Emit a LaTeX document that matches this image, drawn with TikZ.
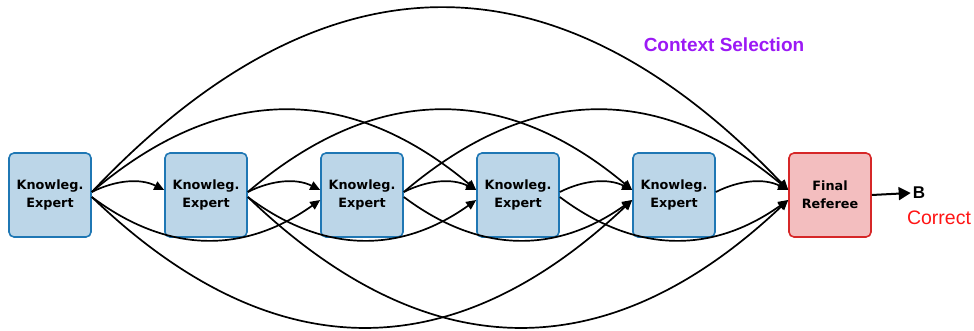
\documentclass[tikz,border=0pt]{standalone}
\usepackage{fontspec}
\setmainfont{DejaVu Sans}
\newfontfamily\labfont{Liberation Sans}
\usetikzlibrary{arrows.meta}
\definecolor{kfill}{RGB}{188,214,232}
\definecolor{kdraw}{RGB}{31,119,180}
\definecolor{rfill}{RGB}{243,190,191}
\definecolor{rdraw}{RGB}{214,39,40}
\definecolor{ctxcol}{RGB}{155,25,245}
\definecolor{corcol}{RGB}{255,20,20}
\tikzset{
  expertbox/.style={draw=kdraw, fill=kfill, line width=1.6pt, rounded corners=5pt,
    minimum width=82pt, minimum height=84pt, inner sep=0pt, align=center,
    font=\fontsize{12.8}{18}\selectfont\bfseries},
  refbox/.style={expertbox, draw=rdraw, fill=rfill},
  arr/.style={line width=1.7pt, black, -{Triangle[length=10pt,width=9pt]}},
}
\begin{document}
\begin{tikzpicture}[x=1pt,y=-1pt]
\useasboundingbox (0,0) rectangle (974,331);
\node[expertbox] (e1) at (50,195) {Knowleg.\\Expert};
\node[expertbox] (e2) at (206,195) {Knowleg.\\Expert};
\node[expertbox] (e3) at (362,195) {Knowleg.\\Expert};
\node[expertbox] (e4) at (518,195) {Knowleg.\\Expert};
\node[expertbox] (e5) at (674,195) {Knowleg.\\Expert};
\node[refbox] (f) at (830,195) {Final\\Referee};
\node[font=\labfont\bfseries\fontsize{17}{17}\selectfont, inner sep=2pt] (b) at (919,193) {B};
\node[font=\labfont\fontsize{19.5}{19.5}\selectfont, text=corcol] (cor) at (939,218) {Correct};
\node[font=\labfont\bfseries\fontsize{19}{19}\selectfont, text=ctxcol] (ctx) at (724,45) {Context Selection};
% distance 1 (up)
\foreach \a/\b in {e1/e2,e2/e3,e3/e4,e4/e5,e5/f}{
  \draw[arr] ([yshift=3pt]\a.east) .. controls +(24,-12) and +(-24,-12) .. ([yshift=5pt]\b.west);
}
% distance 2 (down)
\foreach \a/\b in {e1/e3,e2/e4,e3/e5,e4/f}{
  \draw[arr] ([yshift=-2pt]\a.east) .. controls +(76,57) and +(-76,54) .. ([yshift=-5pt]\b.west);
}
% distance 3 (up)
\foreach \a/\b in {e1/e4,e2/e5,e3/f}{
  \draw[arr] ([yshift=3pt]\a.east) .. controls +(128,-109) and +(-128,-107) .. ([yshift=5pt]\b.west);
}
% distance 4 (down)
\foreach \a/\b in {e1/e5,e2/f}{
  \draw[arr] ([yshift=-2pt]\a.east) .. controls +(180,173) and +(-180,170) .. ([yshift=-5pt]\b.west);
}
% distance 5 (up)
\draw[arr] ([yshift=3pt]e1.east) .. controls +(232,-245) and +(-232,-243) .. ([yshift=5pt]f.west);
% output
\draw[line width=2pt, -{Triangle[length=12pt,width=13pt]}] (f.east) -- (b.west);
\end{tikzpicture}
\end{document}
